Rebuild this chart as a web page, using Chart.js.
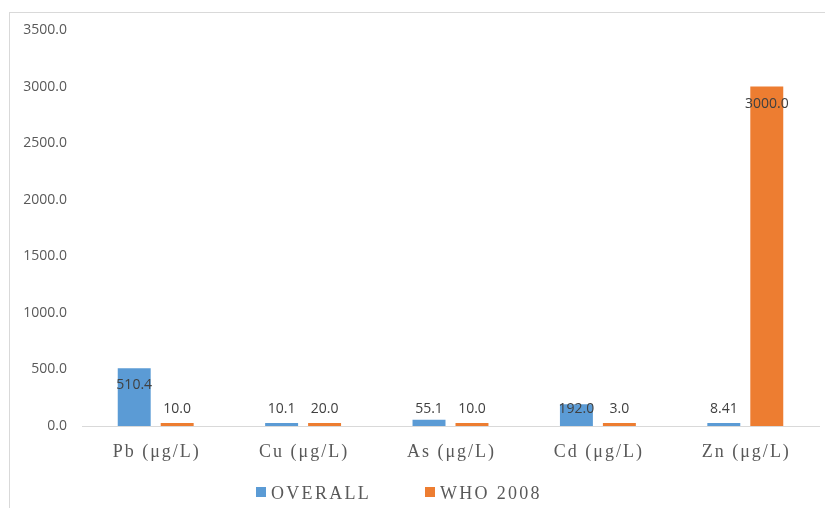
<!DOCTYPE html>
<html>
<head>
<meta charset="utf-8">
<script src="https://cdn.jsdelivr.net/npm/chart.js@4.4.1/dist/chart.umd.min.js"></script>
<style>
  html, body { margin: 0; padding: 0; background: #fff; overflow: hidden; }
  #wrap { position: relative; width: 825px; height: 508px; }
  #frame { position: absolute; left: 9px; top: 12px; width: 840px; height: 520px; border: 1px solid #d9d9d9; box-sizing: border-box; }
  canvas { position: absolute; left: 0; top: 0; }
</style>
</head>
<body>
<div id="wrap">
  <div id="frame"></div>
  <canvas id="c" width="825" height="508"></canvas>
</div>
<script>
const categories = ['Pb (\u03BCg/L)', 'Cu (\u03BCg/L)', 'As (\u03BCg/L)', 'Cd (\u03BCg/L)', 'Zn (\u03BCg/L)'];
const overallValues = [510.4, 10.1, 55.1, 192.0, 8.41];
const whoValues = [10.0, 20.0, 10.0, 3.0, 3000.0];
const overallLabels = ['510.4', '10.1', '55.1', '192.0', '8.41'];
const whoLabels = ['10.0', '20.0', '10.0', '3.0', '3000.0'];
const seriesNames = ['OVERALL', 'WHO 2008'];
const yTicks = [0, 500, 1000, 1500, 2000, 2500, 3000, 3500];

const BLUE = '#5B9BD5';
const ORANGE = '#ED7D31';

const customDraw = {
  id: 'customDraw',
  afterDatasetsDraw(chart) {
    const ctx = chart.ctx;
    const yScale = chart.scales.y;
    const base = yScale.getPixelForValue(0);
    const labelSets = [overallLabels, whoLabels];
    ctx.save();
    ctx.font = '14px "Open Sans"';
    ctx.fillStyle = '#404040';
    ctx.textAlign = 'center';
    ctx.textBaseline = 'middle';
    chart.data.datasets.forEach((ds, di) => {
      const meta = chart.getDatasetMeta(di);
      meta.data.forEach((bar, i) => {
        const y = Math.min(bar.y + 17, base - 17);
        ctx.fillText(labelSets[di][i], bar.x, y);
      });
    });
    ctx.restore();
  },
  afterDraw(chart) {
    const ctx = chart.ctx;
    const xScale = chart.scales.x;
    ctx.save();
    ctx.font = '18px "Liberation Serif"';
    ctx.fillStyle = '#595959';
    ctx.textAlign = 'center';
    ctx.textBaseline = 'alphabetic';
    try { ctx.letterSpacing = '2px'; } catch (e) {}
    categories.forEach((c, i) => {
      ctx.fillText(c, xScale.getPixelForValue(i) + 1, 457);
    });
    // legend
    ctx.textAlign = 'left';
    try { ctx.letterSpacing = '2.3px'; } catch (e) {}
    const items = [
      { name: seriesNames[0], color: BLUE, x: 256 },
      { name: seriesNames[1], color: ORANGE, x: 425 }
    ];
    items.forEach(it => {
      ctx.fillStyle = it.color;
      ctx.fillRect(it.x, 487, 10, 10);
      ctx.fillStyle = '#595959';
      ctx.fillText(it.name, it.x + 15, 499);
    });
    ctx.restore();
  }
};

new Chart(document.getElementById('c'), {
  type: 'bar',
  data: {
    labels: categories,
    datasets: [
      { label: seriesNames[0], data: overallValues, backgroundColor: BLUE, borderWidth: 0,
        minBarLength: 3, categoryPercentage: 0.583, barPercentage: 0.767 },
      { label: seriesNames[1], data: whoValues, backgroundColor: ORANGE, borderWidth: 0,
        minBarLength: 3, categoryPercentage: 0.583, barPercentage: 0.767 }
    ]
  },
  options: {
    responsive: false,
    animation: false,
    devicePixelRatio: 1,
    layout: { padding: { left: 0, right: 6, top: 30, bottom: 0 } },
    plugins: {
      legend: { display: false },
      tooltip: { enabled: false }
    },
    scales: {
      x: {
        grid: { display: false, drawTicks: false },
        border: { display: true, color: '#d9d9d9', width: 1 },
        ticks: { display: false },
        afterFit(scale) { scale.height = 82; }
      },
      y: {
        min: 0,
        max: 3500,
        afterBuildTicks(scale) { scale.ticks = yTicks.map(v => ({ value: v })); },
        grid: { display: false, drawTicks: false },
        border: { display: false },
        ticks: {
          padding: 15,
          color: '#595959',
          font: { family: '"Open Sans"', size: 14 },
          callback: v => Number(v).toFixed(1)
        },
        afterFit(scale) { scale.width = 82; }
      }
    }
  },
  plugins: [customDraw]
});
</script>
</body>
</html>
